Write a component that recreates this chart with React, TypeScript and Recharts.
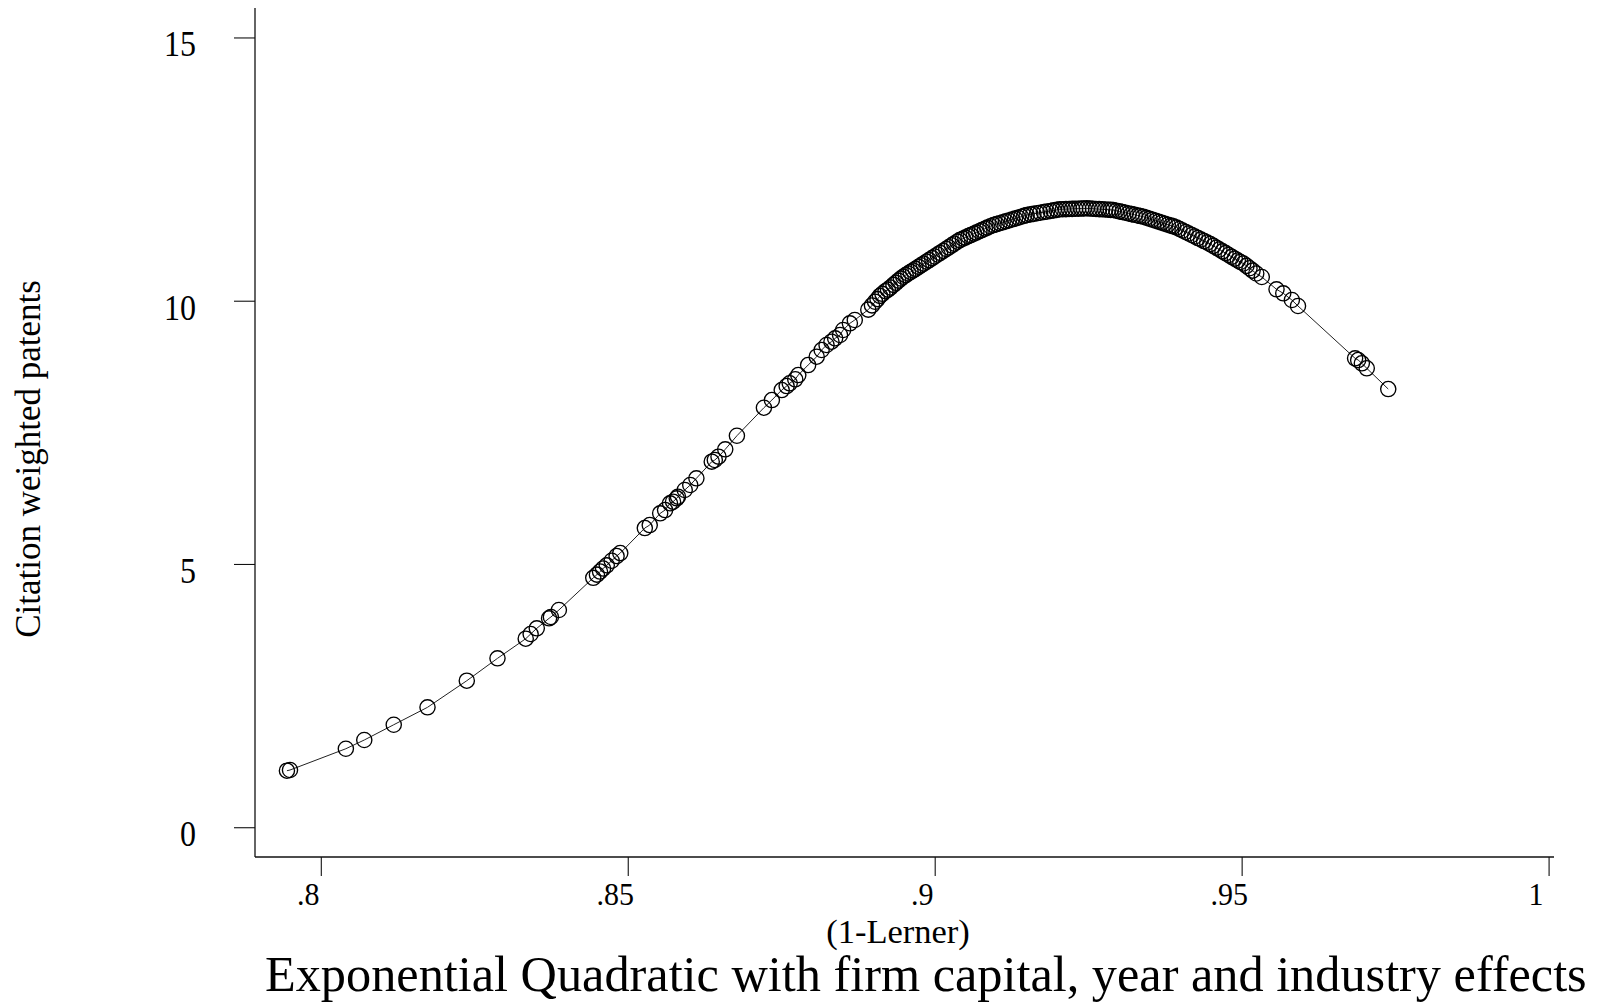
import React from 'react';
import { ComposedChart, Scatter, XAxis, YAxis, Label } from 'recharts';

const FONT = '"Liberation Serif", "Times New Roman", Times, serif';

// Isolated observations on the rising part of the fitted curve
const risingX = [
  0.7944, 0.7949, 0.804, 0.807, 0.8118, 0.8173, 0.8237, 0.8287, 0.8333, 0.8341,
  0.8351, 0.8371, 0.8374, 0.8387, 0.8443, 0.8449, 0.8454, 0.8459, 0.8465, 0.8473,
  0.8481, 0.8487, 0.8527, 0.8535, 0.8552, 0.856, 0.8568, 0.8573, 0.8579, 0.8581,
  0.8592, 0.8601, 0.8611, 0.8636, 0.8641, 0.8647, 0.8658, 0.8677, 0.8721, 0.8734,
  0.875, 0.8758, 0.8763, 0.8772, 0.8777, 0.8793, 0.8807, 0.8815, 0.8823, 0.8831,
  0.8837, 0.8845, 0.885, 0.8861, 0.8869,
];
const risingY = [
  1.083, 1.096, 1.5, 1.666, 1.956, 2.287, 2.792, 3.217, 3.59, 3.679,
  3.787, 3.977, 4.002, 4.135, 4.746, 4.807, 4.866, 4.923, 4.984, 5.071,
  5.16, 5.217, 5.692, 5.749, 5.971, 6.034, 6.161, 6.192, 6.256, 6.287,
  6.414, 6.509, 6.636, 6.952, 6.984, 7.047, 7.187, 7.445, 7.977, 8.123,
  8.313, 8.389, 8.441, 8.517, 8.598, 8.788, 8.946, 9.073, 9.168, 9.231,
  9.295, 9.358, 9.453, 9.58, 9.643,
];

// Dense band of observations around the peak
const peakX = [
  0.8891, 0.8897, 0.8902, 0.8906, 0.891, 0.8914, 0.8919, 0.8923, 0.8927, 0.8932,
  0.8936, 0.894, 0.8944, 0.8948, 0.8952, 0.8956, 0.896, 0.8964, 0.8968, 0.8973,
  0.8977, 0.8981, 0.8986, 0.899, 0.8995, 0.8999, 0.9004, 0.9008, 0.9013, 0.9018,
  0.9022, 0.9027, 0.9031, 0.9036, 0.904, 0.9045, 0.9049, 0.9054, 0.9058, 0.9063,
  0.9067, 0.9072, 0.9076, 0.9081, 0.9085, 0.909, 0.9095, 0.91, 0.9105, 0.911,
  0.9115, 0.912, 0.9125, 0.913, 0.9135, 0.914, 0.9145, 0.9149, 0.9155, 0.916,
  0.9166, 0.9171, 0.9177, 0.9182, 0.9188, 0.9193, 0.9198, 0.9203, 0.9208, 0.9213,
  0.9218, 0.9223, 0.9228, 0.9233, 0.9238, 0.9242, 0.9247, 0.9252, 0.9257, 0.9262,
  0.9267, 0.9272, 0.9277, 0.9282, 0.9286, 0.929, 0.9295, 0.93, 0.9305, 0.931,
  0.9315, 0.932, 0.9325, 0.933, 0.9334, 0.9339, 0.9344, 0.9349, 0.9354, 0.9359,
  0.9364, 0.9369, 0.9374, 0.9379, 0.9384, 0.9388, 0.9393, 0.9398, 0.9403, 0.9408,
  0.9413, 0.9418, 0.9423, 0.9428, 0.9433, 0.9438, 0.9443, 0.9448, 0.9453, 0.9458,
  0.9463, 0.9468, 0.9473, 0.9478, 0.9483, 0.9488, 0.9493, 0.9497, 0.9502, 0.9507,
  0.9512, 0.9517, 0.9523, 0.9532,
];
const peakY = [
  9.84, 9.92, 9.99, 10.04, 10.1, 10.14, 10.19, 10.22, 10.26, 10.31,
  10.35, 10.39, 10.43, 10.465, 10.496, 10.526, 10.556, 10.585, 10.615, 10.653,
  10.683, 10.713, 10.75, 10.78, 10.818, 10.849, 10.887, 10.917, 10.955, 10.993,
  11.024, 11.062, 11.092, 11.13, 11.162, 11.188, 11.209, 11.236, 11.257, 11.283,
  11.304, 11.33, 11.351, 11.377, 11.398, 11.424, 11.447, 11.464, 11.482, 11.499,
  11.517, 11.534, 11.552, 11.569, 11.587, 11.604, 11.622, 11.637, 11.649, 11.659,
  11.671, 11.681, 11.693, 11.703, 11.715, 11.725, 11.735, 11.745, 11.747, 11.749,
  11.752, 11.754, 11.756, 11.758, 11.76, 11.762, 11.764, 11.76, 11.757, 11.753,
  11.749, 11.745, 11.742, 11.738, 11.735, 11.732, 11.719, 11.706, 11.693, 11.68,
  11.667, 11.654, 11.641, 11.628, 11.618, 11.605, 11.586, 11.567, 11.548, 11.53,
  11.511, 11.492, 11.473, 11.454, 11.436, 11.421, 11.401, 11.372, 11.343, 11.315,
  11.286, 11.258, 11.229, 11.2, 11.172, 11.143, 11.115, 11.086, 11.051, 11.017,
  10.982, 10.947, 10.913, 10.878, 10.843, 10.808, 10.773, 10.745, 10.716, 10.671,
  10.626, 10.581, 10.526, 10.46,
];

// Isolated observations on the falling part
const fallingX = [0.9556, 0.9567, 0.9581, 0.9591, 0.9684, 0.9689, 0.9695, 0.9703, 0.9738];
const fallingY = [10.226, 10.15, 10.023, 9.909, 8.915, 8.883, 8.821, 8.726, 8.332];

const xTicks = [0.8, 0.85, 0.9, 0.95, 1];
const xTickLabels = ['.8', '.85', '.9', '.95', '1'];
const yTicks = [0, 5, 10, 15];
const yTickLabels = ['0', '5', '10', '15'];

const xTitle = '(1-Lerner)';
const yTitle = 'Citation weighted patents';
const chartTitle = 'Exponential Quadratic with firm capital, year and industry effects';

const points = [
  ...risingX.map((x, i) => ({ x, y: risingY[i] })),
  ...peakX.map((x, i) => ({ x, y: peakY[i] })),
  ...fallingX.map((x, i) => ({ x, y: fallingY[i] })),
];

const XTick = (props: any) => {
  const { x, y, payload } = props;
  const i = xTicks.indexOf(payload.value);
  return (
    <text
      transform={`translate(${x - 13}, ${y + 29}) scale(1, 1.08)`}
      x={0}
      y={0}
      textAnchor="middle"
      fontFamily={FONT}
      fontSize={30}
      fill="#000"
    >
      {i >= 0 ? xTickLabels[i] : String(payload.value)}
    </text>
  );
};

const YTick = (props: any) => {
  const { x, y, payload } = props;
  const i = yTicks.indexOf(payload.value);
  return (
    <text
      transform={`translate(${x - 38}, ${y + 18.5}) scale(1, 1.1)`}
      x={0}
      y={0}
      textAnchor="end"
      fontFamily={FONT}
      fontSize={32}
      fill="#000"
    >
      {i >= 0 ? yTickLabels[i] : String(payload.value)}
    </text>
  );
};

const Circle = (props: any) => {
  const { cx, cy } = props;
  if (cx == null || cy == null) return null;
  return <circle cx={cx} cy={cy} r={7.6} fill="none" stroke="#000" strokeWidth={1.35} />;
};

const XTitle = () => (
  <text x={898} y={943} textAnchor="middle" fontFamily={FONT} fontSize={34.5} fill="#000">
    {xTitle}
  </text>
);

const MainTitle = () => (
  <text x={265} y={991} textAnchor="start" fontFamily={FONT} fontSize={50.3} fill="#000">
    {chartTitle}
  </text>
);

const YTitle = () => (
  <text
    x={40}
    y={459}
    transform="rotate(-90, 40, 459)"
    textAnchor="middle"
    fontFamily={FONT}
    fontSize={35}
    fill="#000"
  >
    {yTitle}
  </text>
);

export default function App() {
  return (
    <div style={{ position: 'absolute', left: 0, top: 0, width: 1606, height: 1003, background: '#fff' }}>
      <ComposedChart
        width={1606}
        height={1003}
        data={points}
        margin={{ top: 8, right: 52, bottom: 0, left: 0 }}
      >
        <XAxis
          type="number"
          dataKey="x"
          domain={[0.7892, 1.0008]}
          allowDataOverflow
          ticks={xTicks}
          tick={<XTick />}
          tickSize={19}
          tickMargin={0}
          height={146}
          axisLine={{ stroke: '#111', strokeWidth: 1.3 }}
          tickLine={{ stroke: '#111', strokeWidth: 1.1 }}
          interval={0}
        >
          <Label content={<XTitle />} />
          <Label content={<MainTitle />} />
        </XAxis>
        <YAxis
          type="number"
          dataKey="y"
          domain={[-0.556, 15.569]}
          allowDataOverflow
          ticks={yTicks}
          tick={<YTick />}
          tickSize={21}
          tickMargin={0}
          width={255}
          axisLine={{ stroke: '#111', strokeWidth: 1.3 }}
          tickLine={{ stroke: '#111', strokeWidth: 1.1 }}
          interval={0}
        >
          <Label content={<YTitle />} />
        </YAxis>
        <Scatter
          data={points}
          dataKey="y"
          line={{ stroke: '#222', strokeWidth: 1 }}
          lineType="joint"
          shape={<Circle />}
          isAnimationActive={false}
        />
      </ComposedChart>
    </div>
  );
}
